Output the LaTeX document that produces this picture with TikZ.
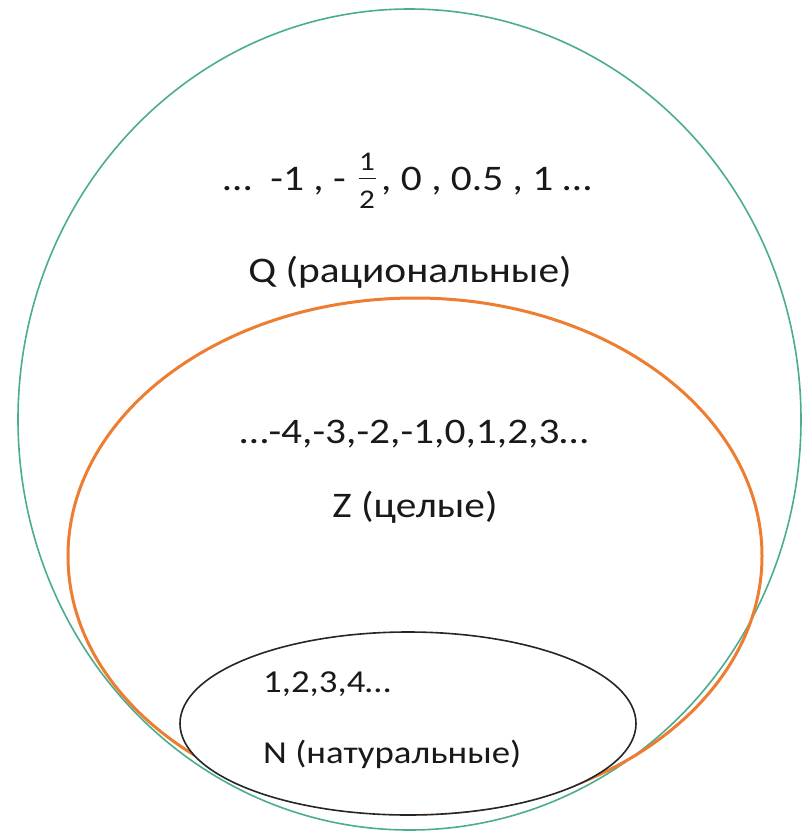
\documentclass[tikz,border=0pt]{standalone}
\usepackage{fontspec}
\setmainfont[FakeStretch=1.15]{Carlito}
\definecolor{qgreen}{RGB}{75,172,143}
\definecolor{zorange}{RGB}{237,125,49}
\begin{document}
\begin{tikzpicture}[x=1pt,y=-1pt,
  lbl/.style={font=\fontsize{36}{40}\selectfont, inner sep=0pt, anchor=base, text=black!90},
  fraclbl/.style={lbl, font=\fontsize{27}{27}\selectfont},
  nlbl/.style={lbl, font=\fontsize{32}{38}\selectfont, anchor=base west}]
\useasboundingbox (0,0) rectangle (802,836);
\draw[qgreen, line width=1.6pt] (409.5,419.5) ellipse [x radius=391.5, y radius=410.5];
\draw[zorange, line width=3pt] (415,556) ellipse [x radius=347, y radius=258];
\draw[black!85, fill=white, line width=1.6pt] (408,723.5) ellipse [x radius=228, y radius=91.5];
\node[lbl, anchor=base east] (qleft) at (346,190) {…\ \ -1 , -};
\node[fraclbl] (qnum) at (367,170) {1};
\node[fraclbl] (qden) at (367,208) {2};
\draw[black!90, line width=1.4pt] (359,178.5) -- (376,178.5);
\node[lbl, anchor=base west] (qright) at (381,190) {, 0 , 0.5 , 1 …};
\node[lbl] (qname) at (410,282) {Q (рациональные)};
\node[lbl] (znums) at (414,443) {…-4,-3,-2,-1,0,1,2,3…};
\node[lbl] (zname) at (415,517) {Z (целые)};
\node[nlbl] (nnums) at (263,692) {1,2,3,4…};
\node[nlbl] (nname) at (263,763) {N (натуральные)};
\end{tikzpicture}
\end{document}
